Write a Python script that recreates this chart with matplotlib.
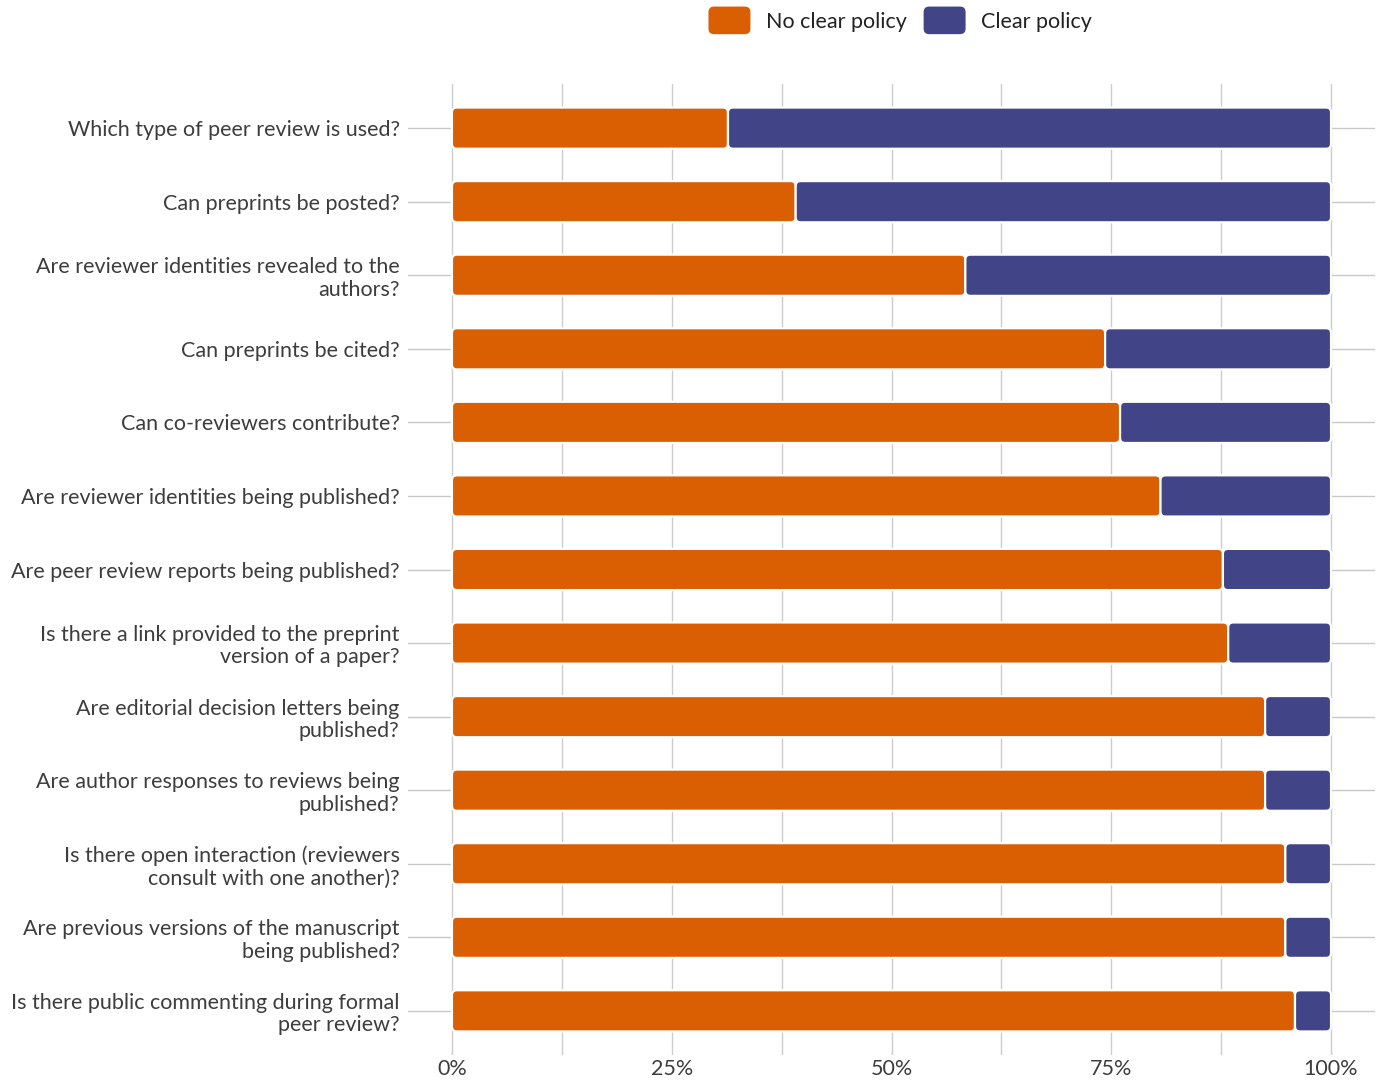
import matplotlib.pyplot as plt
from matplotlib.patches import FancyBboxPatch, Rectangle
from matplotlib.legend_handler import HandlerPatch

questions = [
    "Which type of peer review is used?",
    "Can preprints be posted?",
    "Are reviewer identities revealed to the\nauthors?",
    "Can preprints be cited?",
    "Can co-reviewers contribute?",
    "Are reviewer identities being published?",
    "Are peer review reports being published?",
    "Is there a link provided to the preprint\nversion of a paper?",
    "Are editorial decision letters being\npublished?",
    "Are author responses to reviews being\npublished?",
    "Is there open interaction (reviewers\nconsult with one another)?",
    "Are previous versions of the manuscript\nbeing published?",
    "Is there public commenting during formal\npeer review?",
]
no_clear = [31.4, 39.1, 58.4, 74.3, 76.0, 80.6, 87.7, 88.3, 92.5, 92.5, 94.8, 94.8, 95.9]
clear = [100 - v for v in no_clear]
series_names = ["No clear policy", "Clear policy"]
series_colors = ["#d95f02", "#414487"]
tick_vals = [0, 25, 50, 75, 100]
tick_labels = ["0%", "25%", "50%", "75%", "100%"]

plt.rcParams['font.family'] = ['Lato', 'DejaVu Sans']
text_color = '#3d3d3d'


class RoundHandler(HandlerPatch):
    def create_artists(self, legend, orig_handle, xdescent, ydescent,
                       width, height, fontsize, trans):
        p = FancyBboxPatch((-xdescent, -ydescent - 3), width, height + 6,
                           boxstyle="round,pad=0,rounding_size=4",
                           facecolor=orig_handle.get_facecolor(),
                           edgecolor='none', transform=trans)
        return [p]


fig = plt.figure(figsize=(13.78, 10.8), dpi=100)
ax = fig.add_axes([408 / 1378, 1 - 1055 / 1080, (1375 - 408) / 1378, (1055 - 84) / 1080])

y = list(range(len(questions)))
bars1 = ax.barh(y, no_clear, height=0.56, color=series_colors[0])
bars2 = ax.barh(y, clear, left=no_clear, height=0.56, color=series_colors[1])

ax.set_xlim(-5, 105)
ax.set_ylim(len(questions) - 0.4, -0.6)

# px per data unit, so the rounded corners stay circular
px_x = (1375 - 408) / 110
px_y = (1055 - 84) / (len(questions))
r = 5 / px_x
for bars in (bars1, bars2):
    for b in bars:
        fb = FancyBboxPatch((b.get_x(), b.get_y()), b.get_width(), b.get_height(),
                            boxstyle=f"round,pad=0,rounding_size={r}",
                            mutation_aspect=px_x / px_y,
                            facecolor=b.get_facecolor(), edgecolor='white',
                            linewidth=1.6, zorder=3)
        ax.add_patch(fb)
        b.set_visible(False)

# horizontal lines through each category
for yi in y:
    ax.axhline(yi, color='#c8c8c8', linewidth=1, zorder=1)
# vertical grid every 12.5%
for xv in [i * 12.5 for i in range(9)]:
    ax.axvline(xv, color='#cccccc', linewidth=1, zorder=1)

ax.set_yticks(y)
ax.set_yticklabels(questions, fontsize=15.5, color=text_color, linespacing=1.15)
ax.set_xticks(tick_vals)
ax.set_xticklabels(tick_labels, fontsize=15.5, color=text_color)
ax.tick_params(axis='y', length=0, pad=6)
ax.tick_params(axis='x', length=0, pad=3)
for s in ax.spines.values():
    s.set_visible(False)

handles = [Rectangle((0, 0), 1, 1, facecolor=c) for c in series_colors]
leg = fig.legend(handles=handles, labels=series_names, loc='upper center',
                 bbox_to_anchor=(900 / 1378, 1.008), ncol=2, frameon=False,
                 fontsize=15.5, handlelength=1.95, handleheight=1.0, columnspacing=0.8,
                 handletextpad=0.7,
                 handler_map={Rectangle: RoundHandler()})
for t in leg.get_texts():
    t.set_color('#222222')

fig.savefig('out.png', dpi=100)
